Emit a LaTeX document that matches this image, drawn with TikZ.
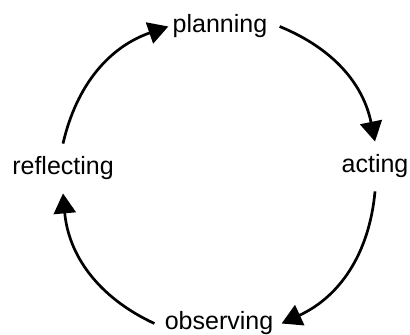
\documentclass[tikz,border=0pt]{standalone}
\usepackage{fontspec}
\setmainfont{Liberation Sans}
\usetikzlibrary{arrows.meta}
\tikzset{>={Triangle[length=10pt,width=11pt]}}

\begin{document}
\begin{tikzpicture}[x=0.5pt, y=0.5pt,
    every node/.style={font=\fontsize{12.5}{15}\selectfont, text height=9.5pt, text depth=3pt, inner xsep=2pt, inner ysep=6pt, anchor=base},
    loopline/.style={->, line width=1.35pt}]
  \useasboundingbox (0,0) rectangle (410,335);
  \node (planning) at (220,302) {planning};
  \node (acting) at (375,162) {acting};
  \node (observing) at (219,5) {observing};
  \node (reflecting) at (63,160) {reflecting};
  \draw[loopline] (reflecting.north) to[bend left=29] (planning.west);
  \draw[loopline] ([xshift=4pt]planning.east) to[bend left=28] (acting.north);
  \draw[loopline] (acting.south) to[bend left=30] ([xshift=2pt]observing.east);
  \draw[loopline] ([xshift=-3pt]observing.west) to[bend left=30] (reflecting.south);
\end{tikzpicture}
\end{document}
